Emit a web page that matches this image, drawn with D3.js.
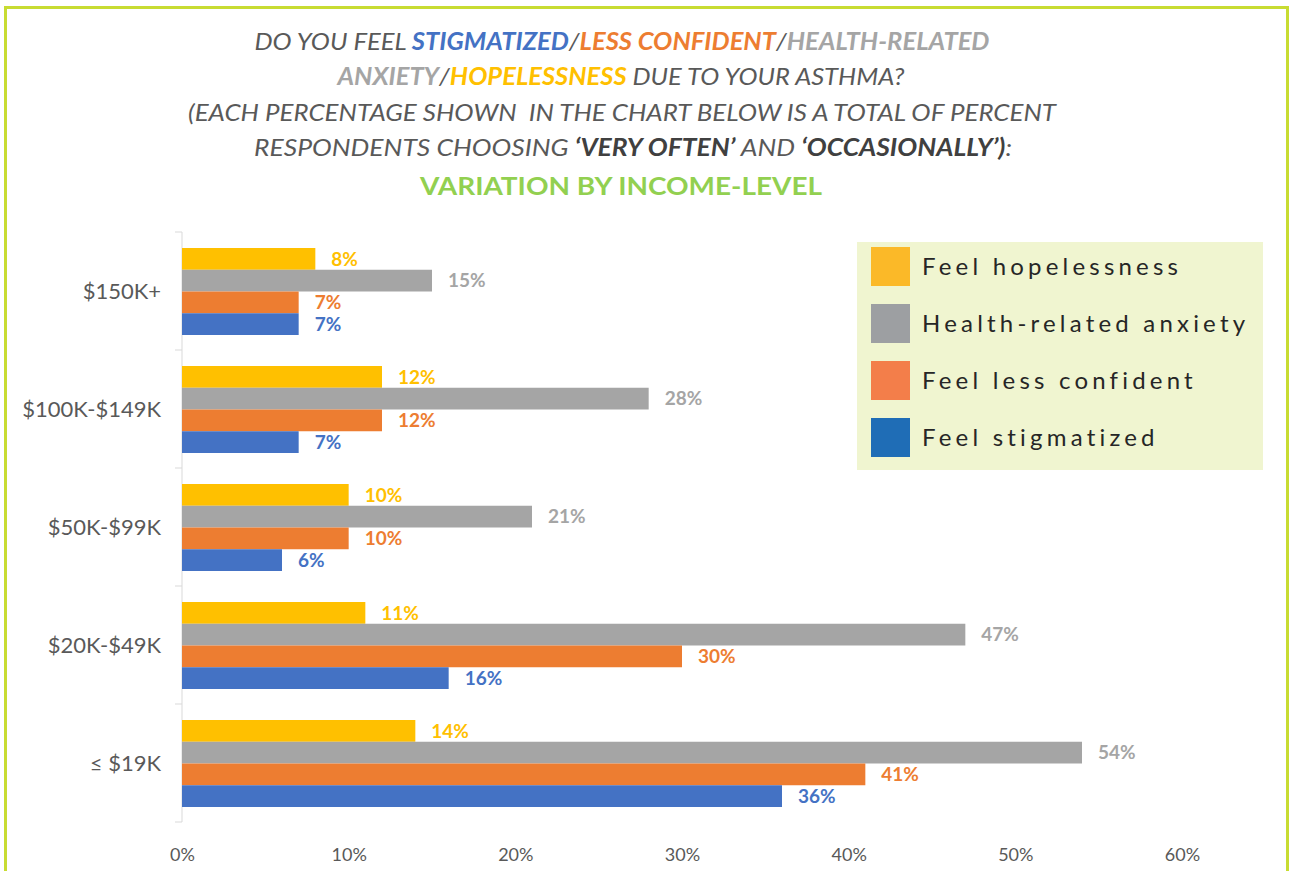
<!DOCTYPE html>
<html>
<head>
<meta charset="utf-8">
<script src="https://cdn.jsdelivr.net/npm/d3@7"></script>
<style>
  body { margin: 0; background: #fff; }
  svg { display: block; font-family: Lato, "Open Sans", sans-serif; }
</style>
</head>
<body>
<svg id="chart" width="1289" height="871"></svg>
<script>
// income groups, top to bottom
var incomes = ["$150K+", "$100K-$149K", "$50K-$99K", "$20K-$49K", "≤ $19K"];
// series, in the order they are stacked in each group
var series = ["Feel hopelessness", "Health-related anxiety", "Feel less confident", "Feel stigmatized"];
var hopeless = [8, 12, 10, 11, 14];
var anxiety = [15, 28, 21, 47, 54];
var lessConf = [7, 12, 10, 30, 41];
var stigma = [7, 7, 6, 16, 36];
var xTicks = [0, 10, 20, 30, 40, 50, 60];

var barColors = ["#ffc000", "#a5a5a5", "#ed7d31", "#4472c4"];
var legendColors = ["#fbb928", "#9d9fa2", "#f37e4a", "#1f6db6"];

var values = [hopeless, anxiety, lessConf, stigma];
var rows = [];
incomes.forEach(function(inc, i) {
  series.forEach(function(s, j) {
    rows.push({income: inc, series: s, idx: j, value: values[j][i]});
  });
});

var svg = d3.select("#chart");

// frame
svg.append("rect")
  .attr("x", 5.5).attr("y", 7.5)
  .attr("width", 1282).attr("height", 900)
  .attr("fill", "none")
  .attr("stroke", "#c8dc32")
  .attr("stroke-width", 3);

// title
var titleLines = [
  {y: 50, cx: 622, len: 735, parts: [
    ["DO YOU FEEL ", "#595959", "normal"],
    ["STIGMATIZED", "#4472c4", "bold"],
    ["/", "#595959", "normal"],
    ["LESS CONFIDENT", "#ed7d31", "bold"],
    ["/", "#595959", "normal"],
    ["HEALTH-RELATED", "#a5a5a5", "bold"]]},
  {y: 85, cx: 621, len: 567, parts: [
    ["ANXIETY", "#a5a5a5", "bold"],
    ["/", "#595959", "normal"],
    ["HOPELESSNESS", "#ffc000", "bold"],
    [" DUE TO YOUR ASTHMA?", "#595959", "normal"]]},
  {y: 121, cx: 622, len: 868, parts: [
    ["(EACH PERCENTAGE SHOWN  IN THE CHART BELOW IS A TOTAL OF PERCENT", "#595959", "normal"]]},
  {y: 156, cx: 633, len: 758, parts: [
    ["RESPONDENTS CHOOSING ", "#595959", "normal"],
    ["\u2018VERY OFTEN\u2019", "#404040", "bold"],
    [" AND ", "#595959", "normal"],
    ["\u2018OCCASIONALLY\u2019)", "#404040", "bold"],
    [":", "#595959", "normal"]]}
];
titleLines.forEach(function(l) {
  var t = svg.append("text")
    .attr("x", l.cx).attr("y", l.y)
    .attr("text-anchor", "middle")
    .attr("font-size", 24)
    .attr("font-style", "italic")
    .attr("textLength", l.len)
    .attr("lengthAdjust", "spacingAndGlyphs")
    .style("white-space", "pre");
  l.parts.forEach(function(p) {
    t.append("tspan").attr("fill", p[1]).attr("font-weight", p[2]).text(p[0]);
  });
});
svg.append("text")
  .attr("x", 621).attr("y", 195)
  .attr("text-anchor", "middle")
  .attr("font-size", 24)
  .attr("font-weight", "bold")
  .attr("fill", "#92d050")
  .attr("textLength", 402)
  .attr("lengthAdjust", "spacingAndGlyphs")
  .text("VARIATION BY INCOME-LEVEL");

// scales
var x = d3.scaleLinear().domain([0, 60]).range([182, 1182]);
var y = d3.scaleBand().domain(incomes).range([232, 822]).padding(0);
var yInner = d3.scaleBand().domain(series).range([16, y.bandwidth() - 15]).padding(0);

// y axis line and ticks at group boundaries
var axisG = svg.append("g");
axisG.append("line")
  .attr("x1", x(0)).attr("x2", x(0))
  .attr("y1", y.range()[0]).attr("y2", y.range()[1])
  .attr("stroke", "#d9d9d9");
var bounds = incomes.map(function(d) { return y(d); }).concat([y.range()[1]]);
axisG.selectAll(".tk").data(bounds).enter().append("line")
  .attr("x1", x(0) - 7).attr("x2", x(0))
  .attr("y1", function(d) { return d; }).attr("y2", function(d) { return d; })
  .attr("stroke", "#d9d9d9");

axisG.selectAll(".cat").data(incomes).enter().append("text")
  .attr("x", 161)
  .attr("y", function(d) { return y(d) + y.bandwidth() / 2; })
  .attr("dy", "0.35em")
  .attr("text-anchor", "end")
  .attr("font-size", 22)
  .attr("fill", "#595959")
  .text(function(d) { return d; });

// x tick labels
var xAxis = d3.axisBottom(x).tickValues(xTicks).tickSize(0).tickFormat(function(d) { return d + "%"; });
var xg = svg.append("g").attr("transform", "translate(0,845)").call(xAxis);
xg.select(".domain").remove();
xg.selectAll("text")
  .attr("font-size", 18)
  .attr("font-family", "Lato, sans-serif")
  .attr("fill", "#595959");

// bars
svg.append("g").selectAll("rect").data(rows).enter().append("rect")
  .attr("x", x(0))
  .attr("y", function(d) { return y(d.income) + yInner(d.series); })
  .attr("width", function(d) { return x(d.value) - x(0); })
  .attr("height", yInner.bandwidth())
  .attr("fill", function(d) { return barColors[d.idx]; });

// value labels
svg.append("g").selectAll("text").data(rows).enter().append("text")
  .attr("x", function(d) { return x(d.value) + 16; })
  .attr("y", function(d) { return y(d.income) + yInner(d.series) + yInner.bandwidth() / 2; })
  .attr("dy", "0.36em")
  .attr("font-size", 19)
  .attr("font-weight", "bold")
  .attr("fill", function(d) { return barColors[d.idx]; })
  .text(function(d) { return d.value + "%"; });

// legend
var lg = svg.append("g").attr("transform", "translate(857,242)");
lg.append("rect").attr("width", 406).attr("height", 228).attr("fill", "#f0f5d0");
var li = lg.selectAll(".li").data(series).enter().append("g")
  .attr("transform", function(d, i) { return "translate(14," + (5 + i * 57) + ")"; });
li.append("rect").attr("width", 39).attr("height", 39)
  .attr("fill", function(d, i) { return legendColors[i]; });
li.append("text")
  .attr("x", 51).attr("y", 20).attr("dy", "0.35em")
  .attr("font-size", 24)
  .attr("letter-spacing", 4.2)
  .attr("fill", "#262626")
  .text(function(d) { return d; });
</script>
</body>
</html>
